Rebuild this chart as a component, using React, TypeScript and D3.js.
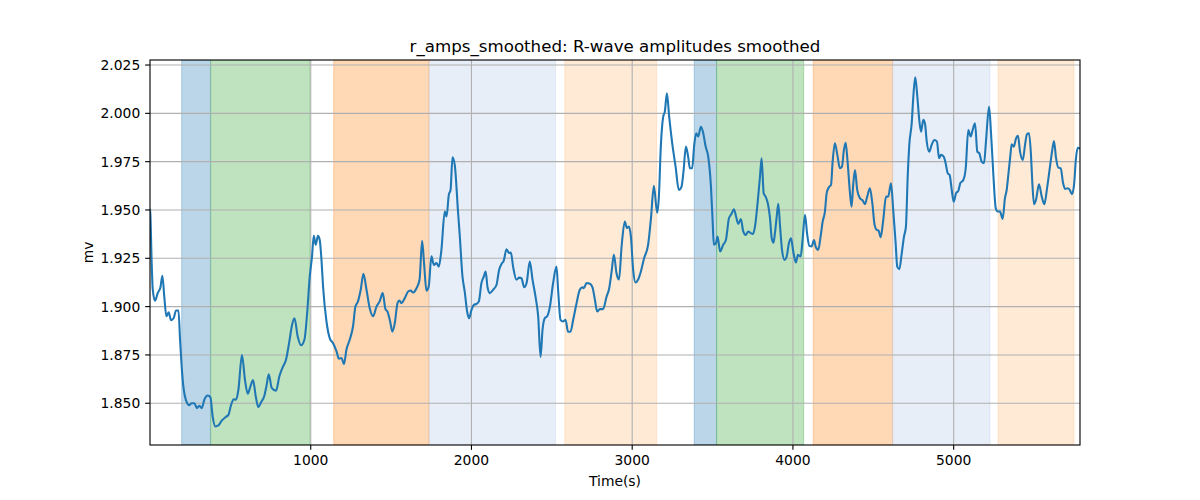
import React from "react";
import * as d3 from "d3";

const times: number[] = [0,2,10,17,31,48,65,77,89,102,116,131,147,162,177,187,197,210,224,245,259,276,292,307,322,338,359,376,390,407,426,446,473,488,504,521,535,550,572,591,608,625,641,658,674,691,712,724,739,757,784,805,826,846,867,884,899,919,940,961,978,994,1008,1019,1031,1045,1056,1067,1077,1098,1118,1139,1160,1176,1191,1207,1222,1243,1263,1278,1294,1311,1328,1347,1367,1388,1409,1429,1448,1465,1477,1494,1508,1523,1540,1552,1564,1585,1606,1622,1637,1658,1677,1693,1705,1720,1734,1751,1766,1782,1797,1813,1834,1845,1859,1870,1882,1896,1917,1927,1944,1958,1973,1985,2000,2015,2031,2046,2062,2077,2088,2100,2114,2135,2156,2172,2187,2201,2218,2234,2245,2259,2280,2297,2311,2328,2343,2363,2380,2400,2415,2430,2442,2456,2471,2488,2508,2529,2539,2554,2570,2585,2601,2616,2633,2654,2674,2691,2699,2716,2737,2753,2768,2782,2799,2819,2840,2857,2872,2886,2903,2918,2934,2954,2967,2979,2992,3006,3021,3037,3054,3074,3099,3116,3135,3155,3166,3178,3193,3203,3216,3230,3249,3270,3290,3307,3320,3334,3348,3359,3373,3386,3398,3411,3427,3440,3457,3473,3490,3500,3508,3521,3531,3547,3566,3583,3602,3618,3633,3645,3660,3676,3691,3706,3722,3737,3751,3764,3780,3795,3805,3818,3830,3846,3857,3868,3879,3888,3899,3909,3920,3932,3948,3961,3975,3988,4002,4019,4031,4048,4060,4075,4089,4102,4116,4131,4141,4158,4172,4185,4199,4210,4224,4237,4247,4261,4278,4292,4305,4317,4328,4340,4355,4365,4375,4386,4400,4417,4434,4448,4462,4479,4494,4508,4521,4533,4546,4562,4579,4593,4610,4624,4639,4649,4662,4677,4691,4703,4714,4724,4739,4749,4761,4774,4786,4797,4811,4822,4832,4848,4863,4880,4896,4909,4921,4938,4950,4963,4975,4988,5000,5015,5029,5041,5060,5075,5091,5106,5118,5133,5147,5160,5174,5189,5201,5220,5232,5247,5262,5274,5288,5305,5319,5330,5340,5352,5361,5374,5388,5400,5413,5430,5444,5456,5469,5481,5489,5500,5512,5531,5548,5564,5581,5598,5612,5624,5637,5651,5666,5681,5693,5710,5722,5736,5749,5761,5772,5785];

const amps: number[] = [1.950,1.948,1.924,1.909,1.903,1.907,1.910,1.916,1.905,1.895,1.897,1.893,1.894,1.898,1.898,1.883,1.869,1.857,1.8515,1.849,1.850,1.850,1.8475,1.8487,1.8475,1.8518,1.854,1.853,1.843,1.838,1.8385,1.841,1.843,1.844,1.849,1.852,1.8518,1.857,1.875,1.862,1.855,1.8587,1.862,1.8535,1.848,1.8505,1.854,1.8587,1.865,1.858,1.8565,1.864,1.8687,1.8725,1.882,1.8906,1.894,1.8845,1.880,1.883,1.897,1.9156,1.926,1.9366,1.932,1.9366,1.9345,1.924,1.910,1.8923,1.8837,1.881,1.877,1.873,1.8734,1.8703,1.8777,1.883,1.8897,1.900,1.9027,1.9087,1.917,1.9087,1.8992,1.895,1.900,1.9027,1.907,1.8987,1.8975,1.8923,1.887,1.8915,1.9018,1.9032,1.9018,1.9044,1.9078,1.9083,1.9073,1.9095,1.9139,1.934,1.9225,1.9082,1.9104,1.926,1.9216,1.9225,1.9207,1.9294,1.9492,1.9466,1.9578,1.9604,1.9773,1.9733,1.9483,1.937,1.9156,1.9078,1.8975,1.894,1.8983,1.9009,1.9014,1.9027,1.9122,1.9156,1.9182,1.910,1.907,1.9087,1.9113,1.919,1.9221,1.9238,1.9297,1.9277,1.928,1.9207,1.9139,1.915,1.9147,1.910,1.9122,1.9233,1.9139,1.9044,1.895,1.874,1.888,1.894,1.895,1.900,1.9122,1.9207,1.9087,1.8932,1.8923,1.8932,1.887,1.887,1.8932,1.9018,1.9087,1.910,1.9095,1.9122,1.9118,1.910,1.9035,1.8975,1.8987,1.8987,1.905,1.9095,1.9182,1.9268,1.917,1.914,1.9311,1.944,1.9406,1.9414,1.9362,1.919,1.9125,1.914,1.9182,1.925,1.932,1.945,1.9625,1.9486,1.9569,1.9828,1.9983,2.0009,2.0104,1.9983,1.9845,1.9724,1.9604,1.9621,1.9707,1.9828,1.9776,1.9716,1.9716,1.9837,1.9897,1.988,1.9931,1.9905,1.9828,1.9776,1.9621,1.945,1.932,1.9328,1.9362,1.9285,1.932,1.9345,1.9457,1.948,1.9504,1.947,1.9428,1.9453,1.9389,1.9371,1.9389,1.938,1.9376,1.9414,1.9535,1.9672,1.9768,1.9587,1.9569,1.9526,1.946,1.9355,1.9331,1.938,1.9466,1.9532,1.9414,1.9294,1.9242,1.9259,1.9328,1.9354,1.9285,1.9228,1.9268,1.9259,1.9345,1.9475,1.9371,1.9314,1.9311,1.9345,1.9311,1.9294,1.9362,1.944,1.9492,1.9587,1.9618,1.963,1.975,1.9845,1.9776,1.9716,1.9724,1.981,1.9848,1.975,1.9587,1.9517,1.963,1.9707,1.9604,1.9561,1.9549,1.953,1.9569,1.9612,1.9535,1.9423,1.9397,1.9393,1.9359,1.9449,1.9569,1.9569,1.9638,1.950,1.9328,1.9207,1.9194,1.9276,1.9362,1.9414,1.9672,1.9837,1.9949,2.0086,2.0186,2.0086,1.9966,1.9905,1.9966,1.9945,1.9858,1.9802,1.9837,1.9862,1.9854,1.9768,1.9785,1.9776,1.9742,1.969,1.9681,1.9604,1.9543,1.9587,1.9599,1.9638,1.9655,1.9716,1.9914,1.988,1.9914,1.9949,1.9802,1.9793,1.975,1.9742,1.9854,2.0034,1.9905,1.9681,1.9509,1.9492,1.9492,1.9454,1.9561,1.9604,1.9681,1.9776,1.984,1.9828,1.9871,1.9884,1.9802,1.9759,1.9837,1.9892,1.9897,1.9785,1.9647,1.953,1.9552,1.9633,1.9569,1.953,1.9612,1.9716,1.9802,1.9857,1.9768,1.9719,1.9716,1.9638,1.9609,1.9612,1.9604,1.9582,1.963,1.9768,1.9822,1.9818];

const spanStarts: number[] = [197, 378, 1143, 1736, 2581, 3386, 3525, 4126, 4620, 5276];
const spanEnds: number[] = [376, 994, 1736, 2523, 3152, 3525, 4067, 4620, 5226, 5749];
const spanColors: string[] = ["#1f77b4", "#2ca02c", "#ff7f0e", "#aec7e8", "#ffbb78", "#1f77b4", "#2ca02c", "#ff7f0e", "#aec7e8", "#ffbb78"];

const xTicks: number[] = [1000, 2000, 3000, 4000, 5000];
const yTicks: number[] = [1.85, 1.875, 1.9, 1.925, 1.95, 1.975, 2.0, 2.025];

const W = 1200, H = 500;
const L = 150, R = 1080, T = 60, B = 445;
const FONT = "DejaVu Sans, sans-serif";
const PT = 100 / 72;

export default function App() {
  const x = d3.scaleLinear().domain([0, 5786]).range([L, R]);
  const y = d3.scaleLinear().domain([1.8284, 2.0276]).range([B, T]);
  const pts = times.map((t, i) => [t, amps[i]] as [number, number]);
  const line = d3.line<[number, number]>().x(d => x(d[0])).y(d => y(d[1])).curve(d3.curveMonotoneX);
  const fs = 10 * PT;
  const tickLen = 3.5 * PT;
  return (
    <svg width={W} height={H} style={{ position: "absolute", left: 0, top: 0, background: "#fff" }} fontFamily={FONT}>
      <defs>
        <clipPath id="plotclip"><rect x={L} y={T} width={R - L} height={B - T} /></clipPath>
      </defs>
      <rect x={0} y={0} width={W} height={H} fill="#fff" />
      <g clipPath="url(#plotclip)">
        {spanStarts.map((s, i) => (
          <rect key={i} x={x(s)} y={T} width={x(spanEnds[i]) - x(s)} height={B - T}
            fill={spanColors[i]} fillOpacity={0.3} stroke={spanColors[i]} strokeOpacity={0.3} strokeWidth={1} />
        ))}
        {xTicks.map(t => (
          <line key={"gx" + t} x1={x(t)} x2={x(t)} y1={T} y2={B} stroke="#b0b0b0" strokeWidth={0.8 * PT} />
        ))}
        {yTicks.map(t => (
          <line key={"gy" + t} x1={L} x2={R} y1={y(t)} y2={y(t)} stroke="#b0b0b0" strokeWidth={0.8 * PT} />
        ))}
        <path d={line(pts) || ""} fill="none" stroke="#1f77b4" strokeWidth={1.5 * PT} strokeLinejoin="round" strokeLinecap="square" />
      </g>
      <rect x={L} y={T} width={R - L} height={B - T} fill="none" stroke="#000" strokeWidth={0.8 * PT} />
      {xTicks.map(t => (
        <g key={"tx" + t}>
          <line x1={x(t)} x2={x(t)} y1={B} y2={B + tickLen} stroke="#000" strokeWidth={0.8 * PT} />
          <text x={x(t)} y={B + 2 * tickLen} dy="0.76em" textAnchor="middle" fontSize={fs} fill="#000">{t}</text>
        </g>
      ))}
      {yTicks.map(t => (
        <g key={"ty" + t}>
          <line x1={L - tickLen} x2={L} y1={y(t)} y2={y(t)} stroke="#000" strokeWidth={0.8 * PT} />
          <text x={L - 2 * tickLen} y={y(t)} dy="0.36em" textAnchor="end" fontSize={fs} fill="#000">{t.toFixed(3)}</text>
        </g>
      ))}
      <text x={(L + R) / 2} y={486} textAnchor="middle" fontSize={fs} fill="#000">Time(s)</text>
      <text transform={`translate(93, ${(T + B) / 2}) rotate(-90)`} textAnchor="middle" fontSize={fs} fill="#000">mv</text>
      <text x={(L + R) / 2} y={52} textAnchor="middle" fontSize={12 * PT} fill="#000">r_amps_smoothed: R-wave amplitudes smoothed</text>
    </svg>
  );
}
